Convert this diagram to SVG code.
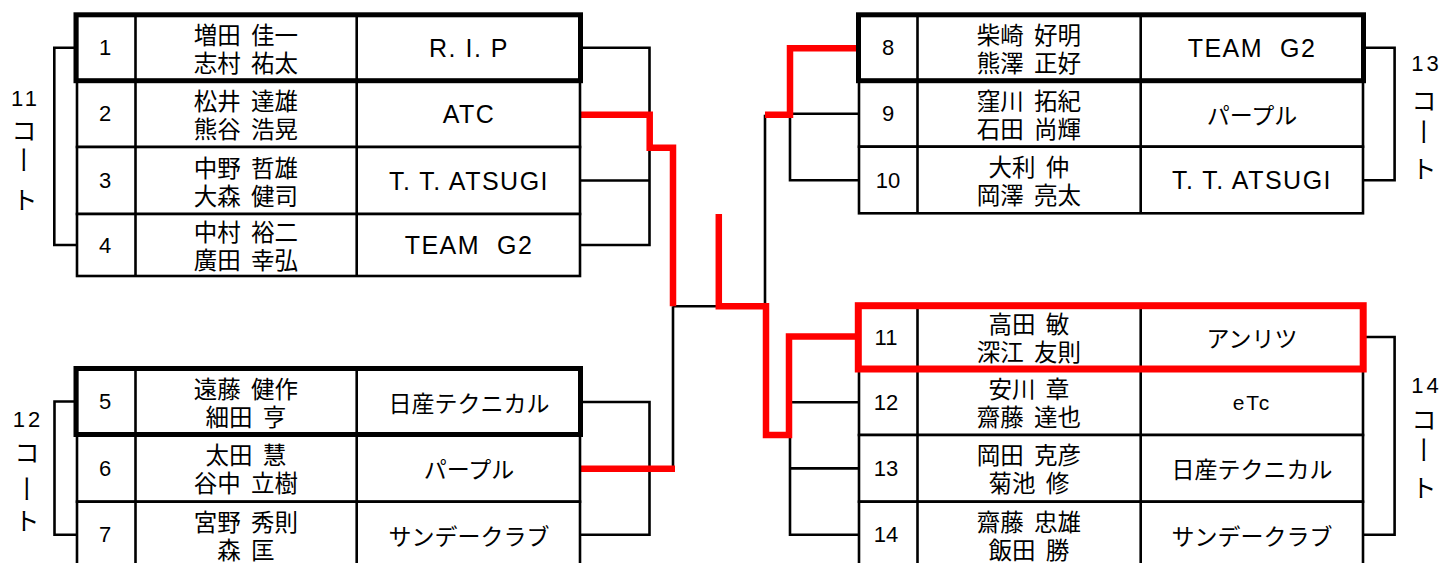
<svg xmlns="http://www.w3.org/2000/svg" width="1443" height="563" viewBox="0 0 1443 563">
<style>
.bk{fill:none;stroke:#000;stroke-width:2.6}
.cell{fill:#fff;stroke:#000;stroke-width:2.6}
.thick{fill:none;stroke:#000;stroke-width:5}
.red{fill:none;stroke:#f00;stroke-width:6.5}
.redbox{fill:none;stroke:#f00;stroke-width:7}
text{fill:#000;text-anchor:middle;dominant-baseline:central}
.num{font-family:"Liberation Sans",Arial,sans-serif;font-size:22px}
.nm{font-family:"Noto Sans CJK JP",sans-serif;font-size:23.5px;word-spacing:5px}
.tl{font-family:"Liberation Sans",Arial,sans-serif;font-size:25px;letter-spacing:1.5px}
.tj{font-family:"Noto Sans CJK JP",sans-serif;font-size:23px}
.etc{font-family:"Liberation Sans",Arial,sans-serif;font-size:21px;letter-spacing:2px}
.ct{font-family:"Liberation Sans",Arial,sans-serif;font-size:22px;letter-spacing:3px}
.ck{font-family:"Noto Sans CJK JP",sans-serif;font-size:25px}
.cd{font-family:"Noto Sans CJK JP",sans-serif;font-size:24px;writing-mode:vertical-rl}
</style>

<g id="connectors">
  <path class="bk" d="M77,47.7 H54.3 V245 H77"/>
  <path class="bk" d="M77,401.5 H54.5 V534.8 H77"/>
  <path class="bk" d="M580,47.7 H649.5 V245 H580 M580,180.5 H649.5"/>
  <path class="bk" d="M580,402 H649.5 V534.8 H580"/>
  <path class="bk" d="M673,306.3 V468.8 M673,306.3 H718.8"/>
  <path class="bk" d="M765,114.7 V306.3"/>
  <path class="bk" d="M859,113.7 H790 V180.3 H859"/>
  <path class="bk" d="M790,435 V534.8 H859 M790,402.3 H859 M790,468.4 H859"/>
  <path class="bk" d="M1363,47.7 H1394.6 V180.3 H1363"/>
  <path class="bk" d="M1363,337 H1394.6 V534.8 H1363"/>
  <path class="red" d="M580,114.7 H649.7 V147.8 H673 V306.3"/>
  <path class="red" d="M580,468.8 H675"/>
  <path class="red" d="M718.8,214 V306.3 H766 V435 H789 V336.5 H859"/>
  <path class="red" d="M765,114.7 H790 V48.3 H859"/>
</g>

<g id="court11">
  <text class="ct" x="25.5" y="98.7">11</text>
  <text class="ck" x="24" y="129">コ</text>
  <text class="cd" transform="translate(24,160.5) scale(1,1.2)" x="0" y="0">ー</text>
  <text class="ck" x="25" y="198">ト</text>
</g>
<g id="court12">
  <text class="ct" x="28" y="419">12</text>
  <text class="ck" x="27" y="451">コ</text>
  <text class="cd" transform="translate(27,489) scale(1,1.2)" x="0" y="0">ー</text>
  <text class="ck" x="27" y="519">ト</text>
</g>
<g id="court13">
  <text class="ct" x="1426.5" y="63.5">13</text>
  <text class="ck" x="1424" y="99">コ</text>
  <text class="cd" transform="translate(1424,131.7) scale(1,1.2)" x="0" y="0">ー</text>
  <text class="ck" x="1424" y="166.7">ト</text>
</g>
<g id="court14">
  <text class="ct" x="1426.5" y="385">14</text>
  <text class="ck" x="1424" y="417.5">コ</text>
  <text class="cd" transform="translate(1424,450.5) scale(1,1.2)" x="0" y="0">ー</text>
  <text class="ck" x="1424" y="486">ト</text>
</g>

<!-- Left top block -->
<g id="entry1">
  <rect class="cell" x="77" y="14.8" width="503" height="65.9"/>
  <path class="bk" d="M135.5,14.8 V80.7 M356.7,14.8 V80.7"/>
  <text class="num" x="105" y="47.7">1</text>
  <text class="nm"><tspan x="246" y="33.7">増田 佳一</tspan><tspan x="246" y="61.7">志村 祐太</tspan></text>
  <text class="tl" x="469" y="47.7">R. I. P</text>
</g>
<g id="entry2">
  <rect class="cell" x="77" y="80.7" width="503" height="66.3"/>
  <path class="bk" d="M135.5,80.7 V147 M356.7,80.7 V147"/>
  <text class="num" x="105" y="113.9">2</text>
  <text class="nm"><tspan x="246" y="99.9">松井 達雄</tspan><tspan x="246" y="127.9">熊谷 浩晃</tspan></text>
  <text class="tl" x="469" y="113.9">ATC</text>
</g>
<g id="entry3">
  <rect class="cell" x="77" y="147" width="503" height="67"/>
  <path class="bk" d="M135.5,147 V214 M356.7,147 V214"/>
  <text class="num" x="105" y="180.5">3</text>
  <text class="nm"><tspan x="246" y="166.5">中野 哲雄</tspan><tspan x="246" y="194.5">大森 健司</tspan></text>
  <text class="tl" x="469" y="180.5">T. T. ATSUGI</text>
</g>
<g id="entry4">
  <rect class="cell" x="77" y="214" width="503" height="62"/>
  <path class="bk" d="M135.5,214 V276 M356.7,214 V276"/>
  <text class="num" x="105" y="245.5">4</text>
  <text class="nm"><tspan x="246" y="231">中村 裕二</tspan><tspan x="246" y="259">廣田 幸弘</tspan></text>
  <text class="tl" x="469" y="245" xml:space="preserve">TEAM  G2</text>
</g>
<rect id="seed1" class="thick" x="76" y="14.8" width="504.5" height="65.9"/>

<!-- Left bottom block -->
<g id="entry5">
  <rect class="cell" x="77" y="368.5" width="503" height="66"/>
  <path class="bk" d="M135.5,368.5 V434.5 M356.7,368.5 V434.5"/>
  <text class="num" x="105" y="401.5">5</text>
  <text class="nm"><tspan x="246" y="387.5">遠藤 健作</tspan><tspan x="246" y="415.5">細田 亨</tspan></text>
  <text class="tj" x="469" y="401.5">日産テクニカル</text>
</g>
<g id="entry6">
  <rect class="cell" x="77" y="434.5" width="503" height="67.2"/>
  <path class="bk" d="M135.5,434.5 V501.7 M356.7,434.5 V501.7"/>
  <text class="num" x="105" y="468.1">6</text>
  <text class="nm"><tspan x="246" y="454.1">太田 慧</tspan><tspan x="246" y="482.1">谷中 立樹</tspan></text>
  <text class="tj" x="469" y="468.1">パープル</text>
</g>
<g id="entry7">
  <rect class="cell" x="77" y="501.7" width="503" height="66.3"/>
  <path class="bk" d="M135.5,501.7 V568 M356.7,501.7 V568"/>
  <text class="num" x="105" y="534.8">7</text>
  <text class="nm"><tspan x="246" y="520.8">宮野 秀則</tspan><tspan x="246" y="548.8">森 匡</tspan></text>
  <text class="tj" x="469" y="534.8">サンデークラブ</text>
</g>
<rect id="seed5" class="thick" x="76" y="368.5" width="504.5" height="66"/>

<!-- Right top block -->
<g id="entry8">
  <rect class="cell" x="859" y="14.8" width="504" height="65.9"/>
  <path class="bk" d="M917.5,14.8 V80.7 M1140.7,14.8 V80.7"/>
  <text class="num" x="888" y="47.7">8</text>
  <text class="nm"><tspan x="1029" y="33.7">柴崎 好明</tspan><tspan x="1029" y="61.7">熊澤 正好</tspan></text>
  <text class="tl" x="1252" y="47.7" xml:space="preserve">TEAM  G2</text>
</g>
<g id="entry9">
  <rect class="cell" x="859" y="80.7" width="504" height="66"/>
  <path class="bk" d="M917.5,80.7 V146.7 M1140.7,80.7 V146.7"/>
  <text class="num" x="888" y="113.7">9</text>
  <text class="nm"><tspan x="1029" y="99.7">窪川 拓紀</tspan><tspan x="1029" y="127.7">石田 尚輝</tspan></text>
  <text class="tj" x="1252" y="113.7">パープル</text>
</g>
<g id="entry10">
  <rect class="cell" x="859" y="146.7" width="504" height="66.6"/>
  <path class="bk" d="M917.5,146.7 V213.3 M1140.7,146.7 V213.3"/>
  <text class="num" x="888" y="180">10</text>
  <text class="nm"><tspan x="1029" y="166">大利 仲</tspan><tspan x="1029" y="194">岡澤 亮太</tspan></text>
  <text class="tl" x="1252" y="180">T. T. ATSUGI</text>
</g>
<rect id="seed8" class="thick" x="858.5" y="14.8" width="505" height="65.9"/>

<!-- Right bottom block -->
<g id="entry11">
  <rect class="cell" x="859" y="305.7" width="504" height="63.3"/>
  <path class="bk" d="M917.5,305.7 V369 M1140.7,305.7 V369"/>
  <text class="num" x="886" y="337.3">11</text>
  <text class="nm"><tspan x="1029" y="323.3">高田 敏</tspan><tspan x="1029" y="351.3">深江 友則</tspan></text>
  <text class="tj" x="1252" y="337.3">アンリツ</text>
</g>
<g id="entry12">
  <rect class="cell" x="859" y="369" width="504" height="66"/>
  <path class="bk" d="M917.5,369 V435 M1140.7,369 V435"/>
  <text class="num" x="886" y="402">12</text>
  <text class="nm"><tspan x="1029" y="388">安川 章</tspan><tspan x="1029" y="416">齋藤 達也</tspan></text>
  <text class="etc" x="1252" y="402">eTc</text>
</g>
<g id="entry13">
  <rect class="cell" x="859" y="435" width="504" height="66.7"/>
  <path class="bk" d="M917.5,435 V501.7 M1140.7,435 V501.7"/>
  <text class="num" x="886" y="468.4">13</text>
  <text class="nm"><tspan x="1029" y="454.4">岡田 克彦</tspan><tspan x="1029" y="482.4">菊池 修</tspan></text>
  <text class="tj" x="1252" y="468.4">日産テクニカル</text>
</g>
<g id="entry14">
  <rect class="cell" x="859" y="501.7" width="504" height="66.3"/>
  <path class="bk" d="M917.5,501.7 V568 M1140.7,501.7 V568"/>
  <text class="num" x="886" y="534.8">14</text>
  <text class="nm"><tspan x="1029" y="520.8">齋藤 忠雄</tspan><tspan x="1029" y="548.8">飯田 勝</tspan></text>
  <text class="tj" x="1252" y="534.8">サンデークラブ</text>
</g>
<rect id="winner11" class="redbox" x="858.3" y="305.7" width="504.9" height="63.3"/>
</svg>
